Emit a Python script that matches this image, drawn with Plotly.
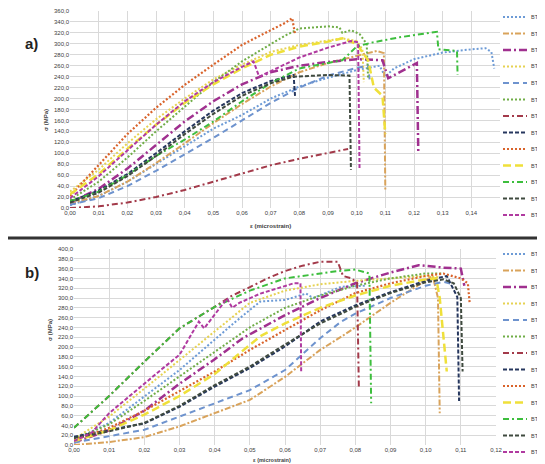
import plotly.graph_objects as go

SERIES = ["BT01", "BT02", "BT03", "BT04", "BT05", "BT06", "BT07",
          "BT08", "BT09", "BT10", "BT11", "BT12", "BT13"]

# ---------------- panel a) data (strain, stress MPa) ----------------
A_BT01_X = [0, 0.01, 0.02, 0.03, 0.04, 0.05, 0.06, 0.07, 0.08, 0.09, 0.1, 0.108, 0.11, 0.113, 0.12, 0.13, 0.14, 0.145, 0.147, 0.148]
A_BT01_Y = [5, 22, 48, 80, 113, 145, 170, 200, 222, 238, 252, 260, 240, 255, 272, 284, 290, 292, 285, 255]
A_BT02_X = [0, 0.01, 0.02, 0.03, 0.04, 0.05, 0.06, 0.07, 0.08, 0.09, 0.1, 0.107, 0.1095, 0.11]
A_BT02_Y = [8, 22, 48, 82, 118, 155, 190, 222, 248, 265, 278, 287, 283, 30]
A_BT03_X = [0, 0.01, 0.02, 0.03, 0.04, 0.05, 0.06, 0.07, 0.08, 0.09, 0.1, 0.109, 0.111, 0.121, 0.1215]
A_BT03_Y = [10, 35, 72, 115, 158, 195, 226, 248, 260, 267, 272, 270, 237, 265, 100]
A_BT04_X = [0, 0.01, 0.02, 0.03, 0.04, 0.05, 0.06, 0.07, 0.08, 0.09, 0.095, 0.1, 0.102, 0.1025]
A_BT04_Y = [30, 70, 118, 162, 200, 235, 262, 285, 298, 306, 310, 305, 290, 230]
A_BT05_X = [0, 0.01, 0.02, 0.03, 0.04, 0.05, 0.06, 0.07, 0.08, 0.09, 0.1, 0.104, 0.1045]
A_BT05_Y = [6, 18, 40, 68, 98, 128, 160, 192, 220, 242, 256, 260, 235]
A_BT06_X = [0, 0.01, 0.02, 0.03, 0.04, 0.05, 0.06, 0.07, 0.075, 0.08, 0.09, 0.094, 0.095, 0.098, 0.101, 0.1035, 0.104]
A_BT06_Y = [15, 48, 92, 140, 185, 230, 268, 300, 315, 328, 332, 330, 320, 325, 318, 300, 235]
A_BT07_X = [0, 0.01, 0.02, 0.03, 0.04, 0.05, 0.06, 0.07, 0.08, 0.09, 0.097]
A_BT07_Y = [0, 3, 10, 20, 33, 48, 63, 78, 90, 100, 108]
A_BT08_X = [0, 0.01, 0.02, 0.03, 0.04, 0.05, 0.06, 0.07, 0.078, 0.0785]
A_BT08_Y = [12, 32, 62, 100, 140, 178, 210, 232, 243, 205]
A_BT09_X = [0, 0.01, 0.02, 0.03, 0.04, 0.05, 0.06, 0.07, 0.075, 0.0775, 0.0785]
A_BT09_Y = [22, 78, 135, 183, 225, 262, 298, 325, 338, 347, 318]
A_BT10_X = [0, 0.01, 0.02, 0.03, 0.04, 0.05, 0.06, 0.07, 0.08, 0.09, 0.095, 0.1, 0.104, 0.106, 0.109, 0.11]
A_BT10_Y = [25, 62, 108, 152, 192, 226, 255, 280, 295, 304, 310, 300, 270, 220, 205, 135]
A_BT11_X = [0, 0.01, 0.02, 0.03, 0.04, 0.05, 0.06, 0.07, 0.08, 0.09, 0.095, 0.1, 0.105, 0.115, 0.128, 0.1285, 0.135, 0.1352]
A_BT11_Y = [12, 30, 60, 95, 125, 158, 195, 228, 255, 265, 270, 295, 302, 312, 322, 290, 287, 243]
A_BT12_X = [0, 0.01, 0.02, 0.03, 0.04, 0.05, 0.06, 0.07, 0.078, 0.09, 0.0975, 0.098]
A_BT12_Y = [10, 28, 58, 95, 135, 172, 205, 228, 240, 243, 242, 70]
A_BT13_X = [0, 0.01, 0.02, 0.03, 0.04, 0.05, 0.06, 0.064, 0.066, 0.07, 0.08, 0.09, 0.098, 0.1005, 0.101]
A_BT13_Y = [18, 58, 105, 152, 195, 230, 258, 268, 240, 250, 275, 293, 305, 303, 70]

# ---------------- panel b) data ----------------
B_BT01_X = [0, 0.01, 0.02, 0.03, 0.04, 0.046, 0.053, 0.06, 0.066, 0.068, 0.076, 0.083]
B_BT01_Y = [10, 45, 99, 153, 215, 252, 293, 296, 309, 300, 323, 325]
B_BT02_X = [0, 0.01, 0.02, 0.03, 0.04, 0.05, 0.06, 0.07, 0.076, 0.08, 0.09, 0.1, 0.102, 0.1035, 0.104]
B_BT02_Y = [0, 6, 16, 38, 65, 92, 139, 194, 221, 240, 290, 335, 345, 300, 65]
B_BT03_X = [0, 0.01, 0.02, 0.0265, 0.03, 0.04, 0.048, 0.06, 0.066, 0.07, 0.08, 0.09, 0.098, 0.105, 0.11, 0.111]
B_BT03_Y = [5, 30, 70, 105, 125, 175, 218, 265, 286, 300, 330, 352, 367, 362, 360, 325]
B_BT04_X = [0, 0.01, 0.02, 0.03, 0.04, 0.05, 0.06, 0.07, 0.08, 0.09, 0.1, 0.104]
B_BT04_Y = [12, 58, 115, 173, 232, 290, 315, 328, 335, 340, 345, 342]
B_BT05_X = [0, 0.01, 0.02, 0.03, 0.04, 0.05, 0.06, 0.07, 0.076, 0.08, 0.09, 0.1, 0.105, 0.108]
B_BT05_Y = [5, 18, 31, 58, 85, 112, 153, 218, 252, 268, 300, 325, 333, 328]
B_BT06_X = [0, 0.01, 0.02, 0.03, 0.04, 0.05, 0.06, 0.07, 0.08, 0.09, 0.1, 0.105]
B_BT06_Y = [12, 42, 90, 140, 190, 240, 280, 305, 325, 340, 350, 350]
B_BT07_X = [0, 0.01, 0.02, 0.03, 0.04, 0.045, 0.05, 0.055, 0.06, 0.065, 0.07, 0.075, 0.0765, 0.079, 0.0805, 0.081]
B_BT07_Y = [35, 100, 170, 238, 282, 305, 322, 340, 355, 366, 374, 374, 345, 340, 330, 118]
B_BT08_X = [0, 0.01, 0.02, 0.03, 0.04, 0.05, 0.06, 0.07, 0.076, 0.08, 0.09, 0.1, 0.106, 0.109, 0.1095]
B_BT08_Y = [17, 31, 44, 78, 119, 157, 201, 252, 272, 285, 312, 335, 345, 302, 90]
B_BT09_X = [0, 0.01, 0.02, 0.03, 0.04, 0.05, 0.06, 0.07, 0.076, 0.08, 0.09, 0.1, 0.105, 0.11, 0.112, 0.1125]
B_BT09_Y = [10, 35, 70, 110, 150, 194, 235, 275, 296, 310, 330, 345, 350, 340, 330, 290]
B_BT10_X = [0, 0.01, 0.02, 0.03, 0.04, 0.05, 0.053, 0.06, 0.07, 0.08, 0.09, 0.1, 0.103, 0.104, 0.1055, 0.106]
B_BT10_Y = [8, 30, 62, 100, 145, 205, 222, 248, 280, 305, 325, 338, 340, 300, 190, 150]
B_BT11_X = [0, 0.01, 0.02, 0.03, 0.04, 0.05, 0.06, 0.07, 0.075, 0.08, 0.084, 0.0845]
B_BT11_Y = [35, 100, 170, 238, 282, 315, 340, 350, 355, 358, 350, 85]
B_BT12_X = [0, 0.01, 0.02, 0.03, 0.04, 0.05, 0.06, 0.07, 0.076, 0.08, 0.09, 0.1, 0.105, 0.108, 0.11, 0.1105]
B_BT12_Y = [14, 28, 45, 80, 122, 160, 205, 248, 268, 282, 310, 332, 338, 330, 300, 150]
B_BT13_X = [0, 0.005, 0.01, 0.015, 0.02, 0.025, 0.03, 0.0355, 0.037, 0.0435, 0.045, 0.047, 0.053, 0.0625, 0.0644, 0.0646]
B_BT13_Y = [8, 25, 65, 95, 126, 155, 184, 252, 238, 299, 280, 290, 309, 330, 330, 147]

X_TICKS_A = [0, 0.01, 0.02, 0.03, 0.04, 0.05, 0.06, 0.07, 0.08, 0.09, 0.10, 0.11, 0.12, 0.13, 0.14]
X_TICKS_B = [0, 0.01, 0.02, 0.03, 0.04, 0.05, 0.06, 0.07, 0.08, 0.09, 0.10, 0.11, 0.12]

PANEL_A = [(A_BT01_X, A_BT01_Y), (A_BT02_X, A_BT02_Y), (A_BT03_X, A_BT03_Y), (A_BT04_X, A_BT04_Y),
           (A_BT05_X, A_BT05_Y), (A_BT06_X, A_BT06_Y), (A_BT07_X, A_BT07_Y), (A_BT08_X, A_BT08_Y),
           (A_BT09_X, A_BT09_Y), (A_BT10_X, A_BT10_Y), (A_BT11_X, A_BT11_Y), (A_BT12_X, A_BT12_Y),
           (A_BT13_X, A_BT13_Y)]
PANEL_B = [(B_BT01_X, B_BT01_Y), (B_BT02_X, B_BT02_Y), (B_BT03_X, B_BT03_Y), (B_BT04_X, B_BT04_Y),
           (B_BT05_X, B_BT05_Y), (B_BT06_X, B_BT06_Y), (B_BT07_X, B_BT07_Y), (B_BT08_X, B_BT08_Y),
           (B_BT09_X, B_BT09_Y), (B_BT10_X, B_BT10_Y), (B_BT11_X, B_BT11_Y), (B_BT12_X, B_BT12_Y),
           (B_BT13_X, B_BT13_Y)]

COLORS = ["#6D9BD6", "#D9A35B", "#A0308F", "#E6D252", "#6E93CE", "#70AD47", "#A33A4A",
          "#26375E", "#D9632B", "#EFE03A", "#3DBE3D", "#3F4A3F", "#B03AA0"]
DASHES = ["2px,2px", "6px,2px,2px,2px", "8px,3px,2px,3px", "2px,2px", "6px,4px", "2px,2px",
          "6px,3px,2px,3px", "4px,2px", "2px,2px", "8px,4px", "6px,3px,2px,3px", "4px,2px", "4px,2px"]
WIDTHS = [2, 2, 2.5, 2, 2, 2, 2, 2, 2.2, 2.5, 2, 2, 2]

# the page body keeps its default 8px margin, so the figure fills the rest of the window
OFF = 8
W, H = 545 - OFF, 464 - OFF
FONT = "Liberation Sans, Arial, sans-serif"

fig = go.Figure()
for i, name in enumerate(SERIES):
    x, y = PANEL_A[i]
    fig.add_trace(go.Scatter(x=x, y=y, mode="lines", name=name, xaxis="x", yaxis="y",
                             showlegend=False,
                             line=dict(color=COLORS[i], dash=DASHES[i], width=WIDTHS[i])))
for i, name in enumerate(SERIES):
    x, y = PANEL_B[i]
    fig.add_trace(go.Scatter(x=x, y=y, mode="lines", name=name, xaxis="x2", yaxis="y2",
                             showlegend=False,
                             line=dict(color=COLORS[i], dash=DASHES[i], width=WIDTHS[i])))

tickfont = dict(family=FONT, size=6, color="#404040")
grid = "#D9D9D9"


def px_x(p):
    return (p - OFF) / W


def px_y(p):
    return 1 - (p - OFF) / H


shapes = [dict(type="line", xref="paper", yref="paper", x0=0, x1=1,
               y0=px_y(238), y1=px_y(238), line=dict(color="#333333", width=3))]
annotations = [
    dict(text="<b>a)</b>", x=px_x(23), y=px_y(33), xref="paper", yref="paper",
         showarrow=False, font=dict(family=FONT, size=15, color="#222")),
    dict(text="<b>b)</b>", x=px_x(23), y=px_y(272), xref="paper", yref="paper",
         showarrow=False, font=dict(family=FONT, size=15, color="#222")),
    dict(text="<b>σ (MPa)</b>", x=px_x(41), y=px_y(107), xref="paper", yref="paper",
         textangle=-90, showarrow=False, font=dict(family=FONT, size=6, color="#404040")),
    dict(text="<b>σ (MPa)</b>", x=px_x(45), y=px_y(343), xref="paper", yref="paper",
         textangle=-90, showarrow=False, font=dict(family=FONT, size=6, color="#404040")),
    dict(text="<b>ε (microstrain)</b>", x=px_x(270), y=px_y(226), xref="paper", yref="paper",
         showarrow=False, font=dict(family=FONT, size=6, color="#404040")),
    dict(text="<b>ε (microstrain)</b>", x=px_x(272), y=0, xref="paper", yref="paper",
         yanchor="bottom", borderpad=0, showarrow=False,
         font=dict(family=FONT, size=5.5, color="#404040")),
]

# legends (one per panel): line sample + label, stacked in the right margin
for top in (17, 254):
    for i, name in enumerate(SERIES):
        yc = top + 16.5 * i
        shapes.append(dict(type="line", xref="paper", yref="paper",
                           x0=px_x(503), x1=px_x(527), y0=px_y(yc), y1=px_y(yc),
                           line=dict(color=COLORS[i], dash=DASHES[i], width=WIDTHS[i])))
        annotations.append(dict(text=name, x=1, y=px_y(yc), xref="paper", yref="paper",
                                xanchor="right", yanchor="middle", showarrow=False,
                                borderpad=0,
                                font=dict(family=FONT, size=5.5, color="#404040")))

fig.update_layout(
    width=W, height=H,
    margin=dict(l=0, r=0, t=0, b=0, autoexpand=False),
    paper_bgcolor="white", plot_bgcolor="white",
    separators=",.",
    showlegend=False,
    xaxis=dict(domain=[px_x(70), px_x(500)], range=[0, 0.15], tickvals=X_TICKS_A,
               tickformat=".2f", showgrid=True, gridcolor=grid, gridwidth=1,
               zeroline=False, showline=False, tickfont=tickfont, anchor="y"),
    yaxis=dict(domain=[px_y(208), px_y(11)], range=[0, 360], dtick=20, tickformat=".1f",
               showgrid=True, gridcolor=grid, gridwidth=1, zeroline=False, showline=False,
               tickfont=tickfont, anchor="x"),
    xaxis2=dict(domain=[px_x(74), px_x(496)], range=[0, 0.12], tickvals=X_TICKS_B,
                tickformat=".2f", showgrid=True, gridcolor=grid, gridwidth=1,
                zeroline=False, showline=False, tickfont=tickfont, anchor="y2"),
    yaxis2=dict(domain=[px_y(445), px_y(249)], range=[0, 400], dtick=20, tickformat=".1f",
                showgrid=True, gridcolor=grid, gridwidth=1, zeroline=False, showline=False,
                tickfont=tickfont, anchor="x2"),
    shapes=shapes,
    annotations=annotations,
)

fig.write_html("out.html")
